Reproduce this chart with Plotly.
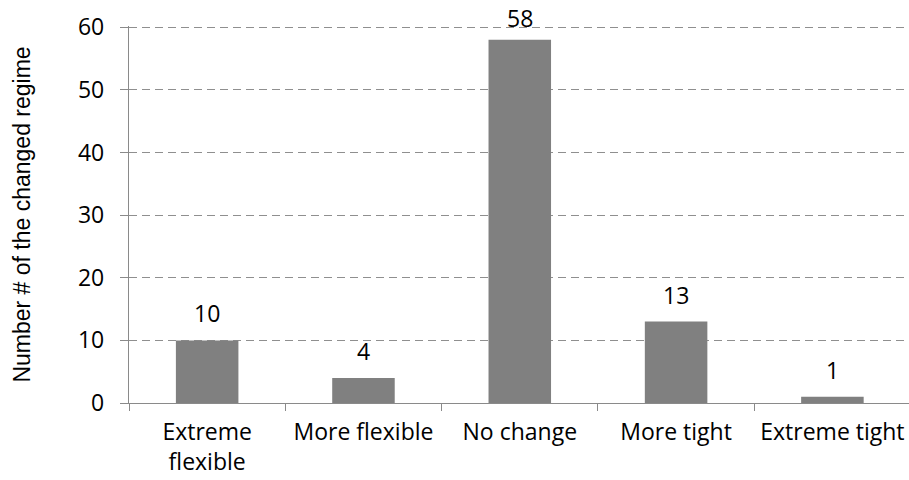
import plotly.graph_objects as go

categories = ["Extreme<br>flexible", "More flexible", "No change", "More tight", "Extreme tight"]
values = [10, 4, 58, 13, 1]
y_ticks = [0, 10, 20, 30, 40, 50, 60]
y_title = "Number # of the changed regime"

BAR = "#808080"
GRID = "#8f8f8f"
AXIS = "#8a8a8a"
TICKFONT = dict(family="Open Sans", size=23, color="#000000")

fig = go.Figure()
fig.add_trace(go.Bar(
    x=categories, y=values, marker=dict(color=BAR, line=dict(width=0)),
    width=0.4, hoverinfo="skip", showlegend=False,
))

for c, v in zip(categories, values):
    fig.add_annotation(x=c, y=v, text=str(v), showarrow=False, borderpad=0,
                       yanchor="bottom", yshift=(10 if v < 55 else 5), font=TICKFONT)

fig.update_layout(
    width=909, height=480,
    margin=dict(l=129, r=0, t=26, b=77),
    paper_bgcolor="white", plot_bgcolor="white",
    bargap=0.6,
)
fig.update_xaxes(
    type="category", range=[-0.5, 4.49], automargin=False,
    showline=True, linecolor=AXIS, linewidth=1.3,
    ticks="outside", tickson="boundaries", ticklen=7, tickcolor=AXIS, tickwidth=1.3,
    showgrid=False, tickfont=TICKFONT, ticklabelstandoff=8,
)
fig.update_yaxes(
    range=[0, 60.2], tickvals=y_ticks, automargin=False,
    showline=True, linecolor=AXIS, linewidth=1.3,
    ticks="outside", ticklen=8, tickcolor=AXIS, tickwidth=1.3,
    showgrid=True, gridcolor=GRID, gridwidth=1.3, griddash="8px,5px",
    zeroline=False, tickfont=TICKFONT, ticklabelstandoff=11,
    title=dict(text=y_title, font=dict(family="Liberation Sans", size=23, color="#000000"), standoff=40),
)

fig.write_html("out.html")
